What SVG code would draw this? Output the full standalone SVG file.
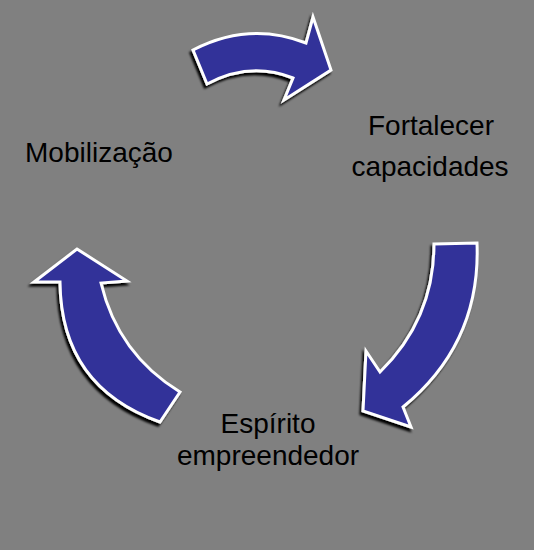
<svg xmlns="http://www.w3.org/2000/svg" width="534" height="550" viewBox="0 0 534 550">
<defs>
<filter id="sh" x="-20%" y="-20%" width="140%" height="140%">
<feDropShadow dx="-2" dy="3" stdDeviation="1" flood-color="#000" flood-opacity="1"/>
</filter>
<style>
.arrow{fill:#333399;stroke:#fff;stroke-width:3;stroke-linejoin:miter;filter:url(#sh)}
.lbl{font-family:"Liberation Sans",Arial,sans-serif;font-size:28px;fill:#000}
</style>
</defs>
<rect width="534" height="550" fill="#808080"/>
<g id="connectors">
<path class="arrow" d="M193,50 Q249,21 306,43 L313,17 L331,70 L284,100 L293,78 Q250,61 207,84 Z"/>
<path class="arrow" d="M434,244 L477,243 Q481,343 403,407 L411,427 L363,411 L366,351 L380,372 Q434,319 434,244 Z"/>
<path class="arrow" d="M77,249 L127,281 L101,283 Q118,354 180,392 L160,422 Q61,387 60,282 L34,282 Z"/>
</g>
<g id="node-mobilizacao"><text class="lbl" x="25" y="162">Mobilização</text></g>
<g id="node-fortalecer"><text class="lbl" text-anchor="middle" x="431" y="135">Fortalecer</text><text class="lbl" text-anchor="middle" x="430" y="176">capacidades</text></g>
<g id="node-espirito"><text class="lbl" text-anchor="middle" x="268" y="433">Espírito</text><text class="lbl" text-anchor="middle" x="268" y="465">empreendedor</text></g>
</svg>
